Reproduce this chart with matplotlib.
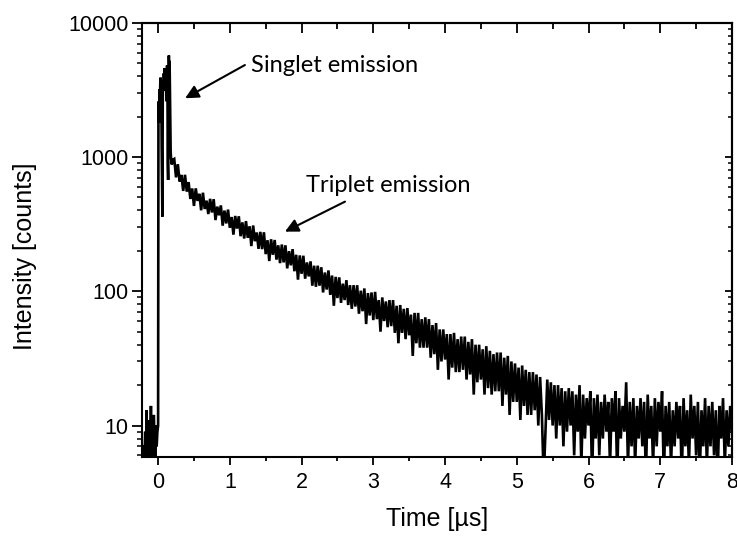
import numpy as np
import matplotlib
matplotlib.use("Agg")
import matplotlib.pyplot as plt
from matplotlib.ticker import LogLocator, FuncFormatter, NullFormatter, MultipleLocator

# ---------------- data ----------------
# pre-trigger background, t = -0.20 ... -0.01 us (step 0.01)
pre_t0, pre_dt = -0.20, 0.01
pre_counts = [7, 5, 9, 6, 13, 4, 8, 11, 5, 7, 14, 6, 9, 5, 12, 8, 4, 10, 7, 9]

# singlet (prompt) burst, t = 0.000 ... 0.195 us (step 0.005)
burst_t0, burst_dt = 0.0, 0.005
burst_counts = [10, 2300, 2600, 1800, 3200, 2400, 3500, 3900, 2800, 3300,
                1200, 600, 360, 2800, 3700, 3100, 4200, 3600, 4600, 3900,
                4300, 3500, 4100, 3000, 2600, 4800, 4200, 900, 675, 3800,
                5700, 4500, 5200, 3300, 1900, 1100, 980, 920, 880, 900]

# delayed (triplet) tail, t = 0.200 ... 8.000 us (step 0.025)
tail_t0, tail_dt = 0.2, 0.025
tail_counts = [
    950, 968, 705, 884, 657, 735, 559, 737, 552, 650, 487, 583, 432, 584, 471, 532, 401, 542, 410, 473,
    376, 488, 386, 485, 339, 427, 368, 436, 308, 399, 320, 406, 297, 357, 264, 364, 293, 362, 257, 326,
    247, 333, 250, 305, 217, 309, 236, 274, 207, 277, 206, 275, 189, 240, 168, 244, 187, 241, 172, 220,
    162, 223, 164, 220, 148, 199, 156, 206, 141, 187, 122, 185, 135, 184, 124, 164, 129, 167, 110, 155,
    108, 155, 110, 151, 98, 138, 103, 143, 94, 131, 78, 128, 89, 127, 82, 114, 86, 121, 79, 111,
    74, 111, 77, 111, 68, 101, 71, 105, 57, 97, 66, 98, 61, 99, 62, 86, 50, 90, 60, 84,
    54, 86, 55, 86, 49, 78, 41, 79, 49, 74, 44, 75, 47, 67, 33, 69, 41, 69, 38, 62,
    38, 64, 38, 62, 32, 56, 34, 58, 26, 52, 30, 52, 31, 48, 22, 48, 27, 49, 25, 44,
    25, 46, 26, 46, 22, 42, 24, 44, 17, 40, 21, 40, 22, 37, 17, 39, 19, 36, 17, 34,
    18, 35, 18, 35, 14, 32, 17, 33, 12, 30, 15, 29, 15, 27, 11, 28, 14, 26, 12, 25,
    12, 25, 13, 24, 10, 23, 12, 4, 9, 22, 11, 21, 10, 20, 8, 20, 10, 19, 7, 18,
    9, 19, 10, 18, 6, 17, 9, 20, 5, 17, 8, 16, 10, 18, 4, 16, 8, 17, 6, 15,
    8, 17, 9, 15, 5, 16, 9, 18, 4, 16, 8, 14, 9, 21, 5, 15, 7, 16, 5, 14,
    8, 16, 7, 15, 4, 17, 8, 14, 5, 16, 7, 15, 9, 18, 4, 14, 7, 15, 5, 13,
    7, 15, 8, 14, 4, 16, 7, 13, 5, 17, 8, 14, 6, 15, 4, 13, 7, 16, 5, 14,
    7, 15, 6, 13, 4, 14, 8, 16, 5, 13, 7, 14, 9,
]

x_ticks = [0, 1, 2, 3, 4, 5, 6, 7, 8]
y_ticks = [10, 100, 1000, 10000]
x_range = (-0.22, 8.0)
y_range = (5.8, 10000)

x_label = "Time [µs]"
y_label = "Intensity [counts]"
singlet_text = "Singlet emission"
triplet_text = "Triplet emission"
singlet_text_xy = (1.29, 4300)
singlet_arrow_from = (1.21, 4840)
singlet_arrow_to = (0.377, 2740)
triplet_text_xy = (2.06, 550)
triplet_arrow_from = (2.605, 465)
triplet_arrow_to = (1.768, 278)

# ---------------- assemble series ----------------
pre_t = pre_t0 + pre_dt * np.arange(len(pre_counts))
burst_t = burst_t0 + burst_dt * np.arange(len(burst_counts))
tail_t = tail_t0 + tail_dt * np.arange(len(tail_counts))
time = np.concatenate([pre_t, burst_t, tail_t])
counts = np.concatenate([pre_counts, burst_counts, tail_counts]).astype(float)

# ---------------- figure ----------------
plt.rcParams['font.family'] = ['Liberation Sans', 'DejaVu Sans']
fig = plt.figure(figsize=(7.37, 5.41), dpi=100)
ax = fig.add_axes([0.1931, 0.1547, 0.9932 - 0.1931, 0.958 - 0.1547])

ax.plot(time, counts, color='black', lw=1.9, solid_joinstyle='miter')

ax.set_yscale('log')
ax.set_xlim(*x_range)
ax.set_ylim(*y_range)

ax.set_xticks(x_ticks)
ax.xaxis.set_minor_locator(MultipleLocator(0.5))
ax.yaxis.set_major_locator(LogLocator(base=10))
ax.yaxis.set_minor_locator(LogLocator(base=10, subs=np.arange(2, 10)))
ax.set_yticks(y_ticks)
ax.yaxis.set_major_formatter(FuncFormatter(lambda v, _: f"{v:g}"))
ax.yaxis.set_minor_formatter(NullFormatter())

for s in ax.spines.values():
    s.set_linewidth(1.5)

ax.tick_params(axis='x', which='major', direction='out', length=5.5, width=1.3,
               labelsize=15.5, pad=5)
ax.tick_params(axis='x', which='minor', direction='out', length=3, width=1.3)
ax.tick_params(axis='y', which='major', direction='out', length=7, width=1.3,
               labelsize=15.5, pad=3)
ax.tick_params(axis='y', which='minor', direction='out', length=3.6, width=1.1)

# mirrored ticks pointing inward on top and right
top = ax.secondary_xaxis('top')
top.set_xticks(x_ticks)
top.xaxis.set_minor_locator(MultipleLocator(0.5))
top.tick_params(axis='x', which='major', direction='in', length=7, width=1.3, labeltop=False)
top.tick_params(axis='x', which='minor', direction='in', length=4.3, width=1.3)
top.spines['top'].set_linewidth(1.5)

right = ax.secondary_yaxis('right')
right.set_yscale('log')
right.yaxis.set_major_locator(LogLocator(base=10))
right.yaxis.set_minor_locator(LogLocator(base=10, subs=np.arange(2, 10)))
right.tick_params(axis='y', which='major', direction='in', length=5, width=1.3, labelright=False)
right.tick_params(axis='y', which='minor', direction='in', length=3, width=1.1, labelright=False)
right.yaxis.set_major_formatter(NullFormatter())
right.yaxis.set_minor_formatter(NullFormatter())
right.spines['right'].set_linewidth(1.5)

ax.set_xlabel(x_label, fontsize=18, labelpad=10)
ax.set_ylabel(y_label, fontsize=18, labelpad=12)
ax.yaxis.set_label_coords(-0.178, 0.463)

# annotations
ann_font = dict(family=['Lato', 'DejaVu Sans'], fontsize=17)
ax.text(*singlet_text_xy, singlet_text, ha='left', va='baseline', **ann_font)
ax.text(*triplet_text_xy, triplet_text, ha='left', va='baseline', **ann_font)
arrow = dict(arrowstyle='-|>', color='black', lw=1.5, mutation_scale=20,
             shrinkA=0, shrinkB=0)
ax.annotate('', xy=singlet_arrow_to, xytext=singlet_arrow_from, arrowprops=arrow)
ax.annotate('', xy=triplet_arrow_to, xytext=triplet_arrow_from, arrowprops=arrow)

fig.savefig('out.png', dpi=100)
